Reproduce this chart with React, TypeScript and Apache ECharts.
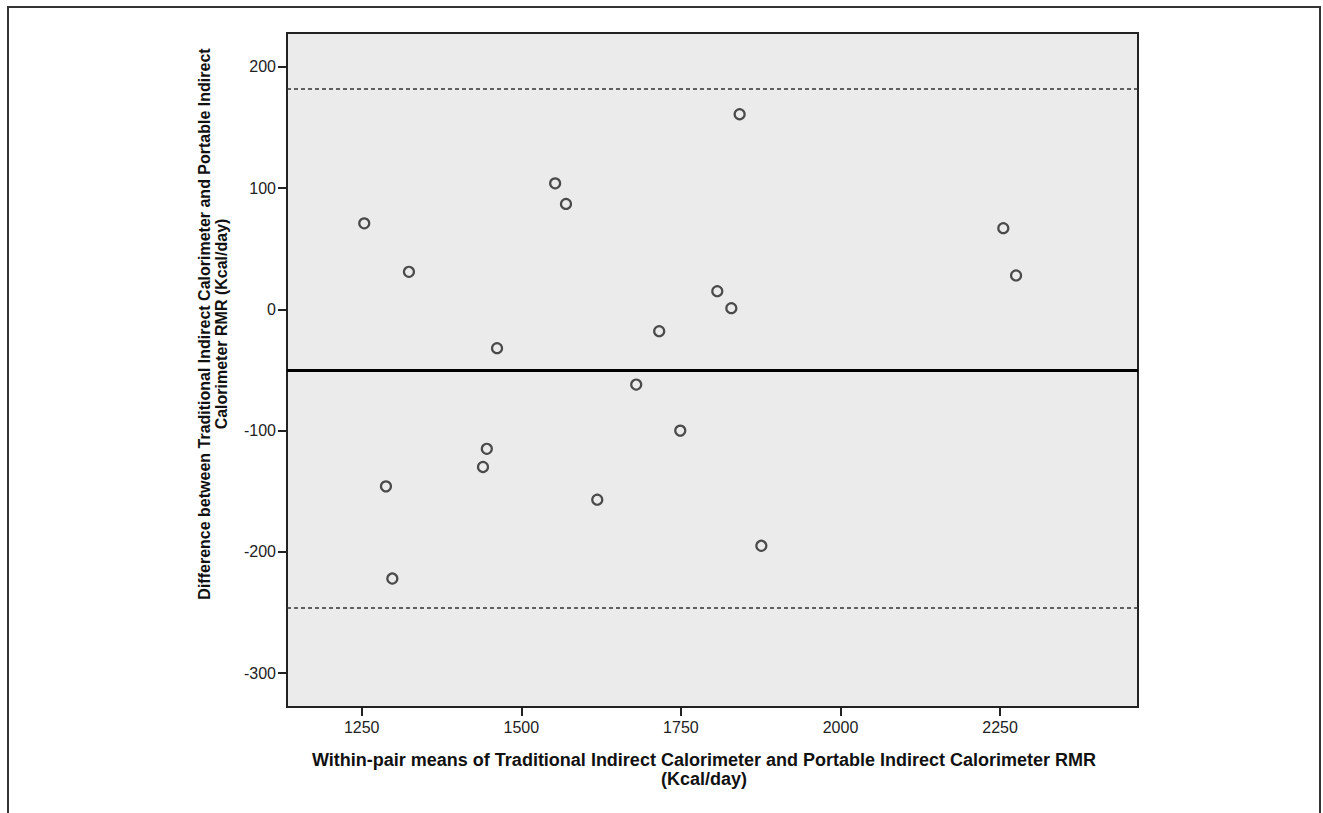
import React, { useEffect, useRef } from "react";
import * as echarts from "echarts";

// Within-pair means (Kcal/day)
const meanValues = [
  1254, 1324, 1462, 1553, 1570, 1446, 1440, 1288, 1298, 1842,
  1807, 1829, 1716, 1680, 1749, 1619, 1876, 2255, 2275,
];
// Differences (Kcal/day)
const diffValues = [
  71, 31, -32, 104, 87, -115, -130, -146, -222, 161,
  15, 1, -18, -62, -100, -157, -195, 67, 28,
];
const meanDifference = -50;
const upperLimit = 182;
const lowerLimit = -246;
const xTicks = [1250, 1500, 1750, 2000, 2250];
const yTicks = [-300, -200, -100, 0, 100, 200];
const xRange = [1133, 2466];
const yRange = [-328, 228];
const xTitle =
  "Within-pair means of Traditional Indirect Calorimeter and Portable Indirect Calorimeter RMR\n(Kcal/day)";
const yTitle =
  "Difference between Traditional Indirect Calorimeter and Portable Indirect\nCalorimeter RMR (Kcal/day)";

const FONT = "'Liberation Sans', Arial, sans-serif";

export default function App() {
  const ref = useRef<HTMLDivElement>(null);
  useEffect(() => {
    if (!ref.current) return;
    const chart = echarts.init(ref.current, null, { renderer: "svg" });
    const points = meanValues.map((m, i) => [m, diffValues[i]]);
    chart.setOption({
      animation: false,
      backgroundColor: "#ffffff",
      grid: {
        left: 287,
        top: 33,
        width: 851,
        height: 674,
        show: true,
        backgroundColor: "#ebebeb",
        borderColor: "#222",
        borderWidth: 2,
      },
      xAxis: {
        type: "value",
        min: xRange[0],
        max: xRange[1],
        axisLine: { show: true, onZero: false, lineStyle: { color: "#222", width: 2 } },
        axisTick: {
          show: true,
          length: 9,
          customValues: xTicks,
          lineStyle: { color: "#222", width: 2 },
        },
        axisLabel: {
          customValues: xTicks,
          formatter: (v: number) => String(v),
          color: "#222",
          fontSize: 16,
          fontFamily: FONT,
          margin: 12,
        },
        splitLine: { show: false },
      },
      yAxis: {
        type: "value",
        min: yRange[0],
        max: yRange[1],
        axisLine: { show: true, onZero: false, lineStyle: { color: "#222", width: 2 } },
        axisTick: {
          show: true,
          length: 9,
          customValues: yTicks,
          lineStyle: { color: "#222", width: 2 },
        },
        axisLabel: {
          customValues: yTicks,
          formatter: (v: number) => String(v),
          color: "#222",
          fontSize: 16,
          fontFamily: FONT,
          margin: 11,
        },
        splitLine: { show: false },
      },
      series: [
        {
          type: "scatter",
          data: points,
          symbol: "circle",
          symbolSize: 10,
          itemStyle: { color: "#ebebeb", borderColor: "#222", borderWidth: 2.2 },
          markLine: {
            silent: true,
            symbol: "none",
            label: { show: false },
            data: [
              { yAxis: meanDifference, lineStyle: { color: "#000", width: 3, type: "solid" } },
              { yAxis: upperLimit, lineStyle: { color: "#333", width: 1.5, type: [4, 3] } },
              { yAxis: lowerLimit, lineStyle: { color: "#333", width: 1.5, type: [4, 3] } },
            ],
          },
        },
      ],
      graphic: [
        {
          type: "rect",
          shape: { x: 8, y: 7, width: 1312, height: 900 },
          style: { fill: "none", stroke: "#333", lineWidth: 2 },
          silent: true,
        },
        {
          type: "text",
          x: 704,
          y: 769,
          style: {
            text: xTitle,
            fill: "#111",
            font: `bold 18px ${FONT}`,
            textAlign: "center",
            textVerticalAlign: "middle",
            lineHeight: 19,
          },
        },
        {
          type: "text",
          x: 213,
          y: 324,
          rotation: Math.PI / 2,
          style: {
            text: yTitle,
            fill: "#111",
            font: `bold 16px ${FONT}`,
            textAlign: "center",
            textVerticalAlign: "middle",
            lineHeight: 17,
          },
        },
      ],
    });
    return () => chart.dispose();
  }, []);
  return (
    <div
      ref={ref}
      style={{ position: "absolute", left: 0, top: 0, width: 1323, height: 813 }}
    />
  );
}
